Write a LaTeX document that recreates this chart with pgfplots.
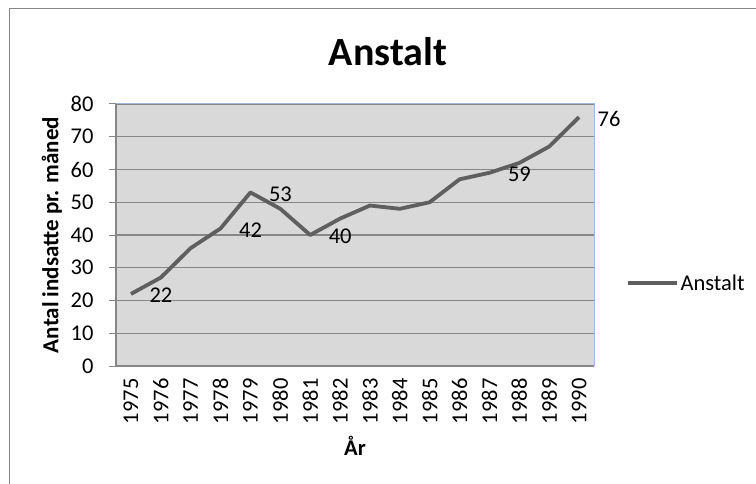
\documentclass[border=0pt]{standalone}
\usepackage{pgfplots}
\pgfplotsset{compat=1.18}
\usepackage{fontspec}
\setmainfont{Carlito}
\definecolor{plotbg}{HTML}{D9D9D9}
\definecolor{gridgray}{HTML}{878787}
\definecolor{linegray}{HTML}{5F5F5F}
\definecolor{frameblue}{HTML}{9DB9E1}
\definecolor{bordergray}{HTML}{868686}
\begin{document}
\begin{tikzpicture}[x=1pt,y=1pt]
\useasboundingbox (0,0) rectangle (756,483);
\fill[white] (0,0) rectangle (756,483);
\draw[bordergray, line width=1pt] (9,-20) -- (9,474) -- (780,474);
\node[font=\bfseries\fontsize{40}{44}\selectfont, anchor=center] at (388,431) {Anstalt};
\begin{axis}[
  at={(116pt,117pt)}, anchor=south west,
  scale only axis, width=478pt, height=262pt,
  xmin=-0.5, xmax=15.5, ymin=0, ymax=80,
  clip=false,
  axis background/.style={fill=plotbg},
  axis line style={draw=none},
  xtick pos=bottom, ytick pos=left,
  xtick={0,...,15},
  xticklabels={1975,1976,1977,1978,1979,1980,1981,1982,1983,1984,1985,1986,1987,1988,1989,1990},
  major x tick style={draw=none},
  extra x ticks={-0.5,0.5,1.5,2.5,3.5,4.5,5.5,6.5,7.5,8.5,9.5,10.5,11.5,12.5,13.5,14.5,15.5},
  extra x tick labels={},
  extra x tick style={major tick length=6pt, tick style={draw=gridgray, line width=1pt}},
  xticklabel style={rotate=90, anchor=east, font=\fontsize{22.5}{25}\selectfont, xshift=-2pt},
  ytick={0,10,...,80},
  ymajorgrids,
  grid style={gridgray, line width=1.2pt},
  major y tick style={draw=gridgray, line width=1pt},
  tick align=outside,
  major tick length=7pt,
  yticklabel style={font=\fontsize{22.5}{25}\selectfont, xshift=-12pt},
  /pgf/number format/assume math mode=true,
  xlabel={År},
  ylabel={Antal indsatte pr. måned},
  xlabel style={at={(rel axis cs:0.5,0)}, anchor=center, yshift=-80pt, font=\bfseries\fontsize{22.5}{25}\selectfont},
  ylabel style={at={(axis description cs:-0.134,0.5)}, anchor=center, font=\bfseries\fontsize{23}{25}\selectfont},
  legend style={at={(1.066,0.317)}, anchor=west, draw=none, fill=none, inner sep=0pt,
    font=\fontsize{22.5}{25}\selectfont, legend cell align=left},
  legend image code/.code={\draw[#1] (0pt,0pt) -- (49pt,0pt);},
]
\draw[gridgray, line width=1.2pt] (rel axis cs:0,0) -- (rel axis cs:1,0);
\draw[gridgray, line width=1.2pt] (rel axis cs:0,0) -- (rel axis cs:0,1);
\draw[frameblue, line width=1pt] (rel axis cs:0,1) -- (rel axis cs:1,1) -- (rel axis cs:1,0);
\addplot[linegray, line width=3.8pt, line join=round, mark=none] coordinates {
(0,22) (1,27) (2,36) (3,42) (4,53) (5,48) (6,40) (7,45)
(8,49) (9,48) (10,50) (11,57) (12,59) (13,62) (14,67) (15,76)};
\addlegendentry{Anstalt}
\addplot[draw=none, mark=none, forget plot, point meta=y,
  nodes near coords, nodes near coords align={anchor=center},
  every node near coord/.append style={xshift=30pt, yshift=-1.5pt, font=\fontsize{22.5}{25}\selectfont, text=black}]
coordinates {(0,22) (3,42) (4,53) (6,40) (12,59) (15,76)};
\end{axis}
\end{tikzpicture}
\end{document}
